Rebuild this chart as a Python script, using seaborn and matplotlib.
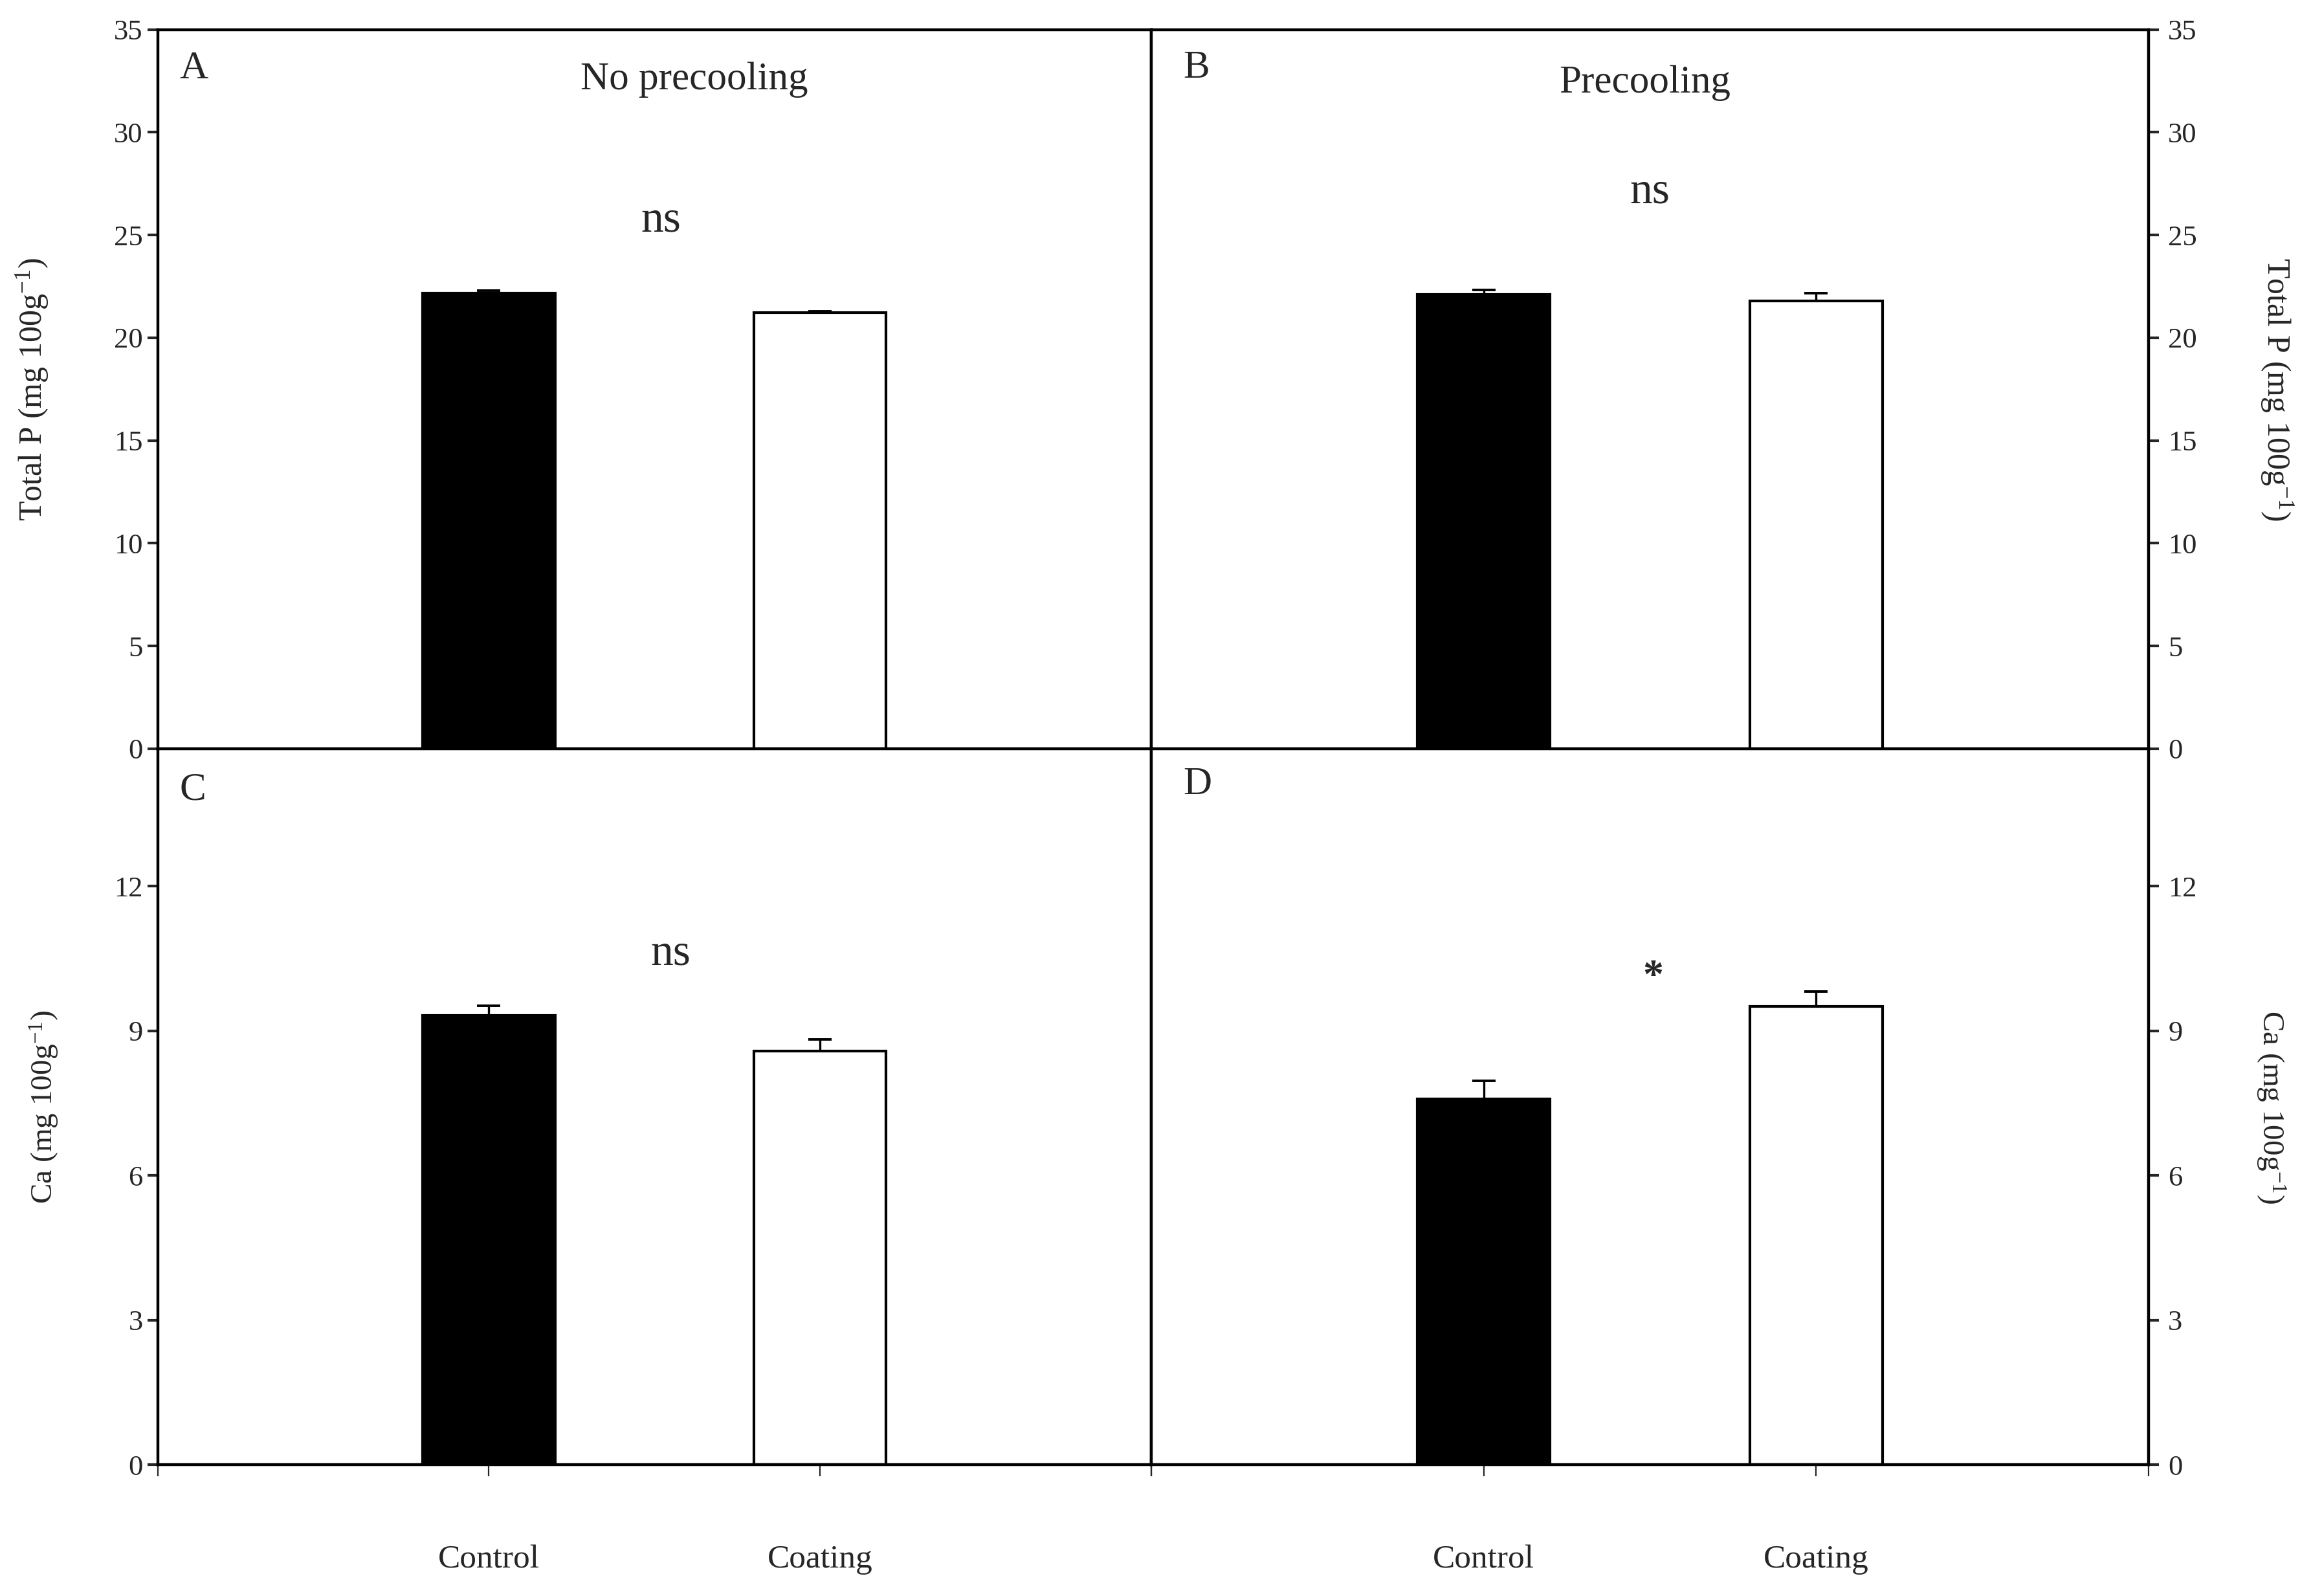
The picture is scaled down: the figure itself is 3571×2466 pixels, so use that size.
import matplotlib
matplotlib.use("Agg")
import matplotlib.pyplot as plt
import seaborn as sns
import pandas as pd
import numpy as np

# ---------------- data ----------------
treatments = ["Control", "Coating"]
conditions = ["No precooling", "Precooling"]
panel_letters = ["A", "B", "C", "D"]

totalp_noprecool = [22.17, 21.22]
totalp_noprecool_se = [0.13, 0.07]
totalp_precool = [22.11, 21.78]
totalp_precool_se = [0.21, 0.39]

ca_noprecool = [9.32, 8.58]
ca_noprecool_se = [0.20, 0.24]
ca_precool = [7.58, 9.51]
ca_precool_se = [0.38, 0.31]

signif = ["ns", "ns", "ns", "*"]

totalp_ticks = [0, 5, 10, 15, 20, 25, 30, 35]
ca_ticks = [0, 3, 6, 9, 12]

totalp_label = "Total P (mg 100g$^{\\mathregular{-1}}$)"
ca_label = "Ca (mg 100g$^{\\mathregular{-1}}$)"

# ---------------- style ----------------
sns.set_style("ticks")
plt.rcParams["font.family"] = ["Liberation Serif", "DejaVu Serif"]
plt.rcParams["mathtext.fontset"] = "custom"
plt.rcParams["mathtext.rm"] = "Liberation Serif"
plt.rcParams["mathtext.it"] = "Liberation Serif:italic"
plt.rcParams["mathtext.bf"] = "Liberation Serif:bold"

fig = plt.figure(figsize=(35.71, 24.66), dpi=100)
fig.patch.set_facecolor("white")

boxes = [
    [0.0682, 0.5309, 0.4299, 0.4506],
    [0.4981, 0.5309, 0.4317, 0.4506],
    [0.0682, 0.0822, 0.4299, 0.4487],
    [0.4981, 0.0822, 0.4317, 0.4487],
]

panels = [
    (totalp_noprecool, totalp_noprecool_se, totalp_ticks, (0, 35), totalp_label),
    (totalp_precool, totalp_precool_se, totalp_ticks, (0, 35), totalp_label),
    (ca_noprecool, ca_noprecool_se, ca_ticks, (0, 14.85), ca_label),
    (ca_precool, ca_precool_se, ca_ticks, (0, 14.85), ca_label),
]

sig_pos = [(0.52, 25.7), (0.50, 27.1), (0.55, 10.6), (0.51, 10.1)]
sig_size = [50, 50, 50, 46]
sig_weight = ["normal", "normal", "normal", "bold"]
letter_pos = [(0.022, 0.945), (0.032, 0.946), (0.022, 0.942), (0.032, 0.950)]
title_pos = [(0.54, 0.930), (0.495, 0.926)]
ylabel_x = [-0.126, 1.128, -0.114, 1.122]
ylabel_size = [36, 36, 34, 34]

SPINE_LW = 3.2

for i, (vals, ses, ticks, ylim, ylab) in enumerate(panels):
    ax = fig.add_axes(boxes[i])
    df = pd.DataFrame({"Treatment": treatments, "value": vals})
    sns.barplot(data=df, x="Treatment", y="value", hue="Treatment",
                order=treatments, hue_order=treatments,
                palette=["black", "white"], edgecolor="black",
                linewidth=3.0, width=0.4, errorbar=None, legend=False, ax=ax)
    xs = sorted(p.get_x() + p.get_width() / 2 for p in ax.patches)
    ax.errorbar(xs, vals, yerr=[np.zeros(len(ses)), ses], fmt="none",
                ecolor="black", elinewidth=2.4, capsize=13, capthick=2.8,
                zorder=5)

    ax.set_xlim(-1, 2)
    ax.set_ylim(*ylim)
    ax.set_yticks(ticks)
    ax.set_yticklabels([str(t) for t in ticks])
    ax.set_xlabel("")

    for sp in ax.spines.values():
        sp.set_visible(True)
        sp.set_linewidth(SPINE_LW)
        sp.set_color("black")

    right = i in (1, 3)
    if right:
        ax.yaxis.tick_right()
        ax.yaxis.set_label_position("right")
        ax.tick_params(axis="y", left=False, right=True, labelleft=False,
                       labelright=True, direction="out", length=11.5,
                       width=3.0, labelsize=32, pad=10)
        ax.set_ylabel(ylab, fontsize=ylabel_size[i], rotation=270, va="center")
    else:
        ax.tick_params(axis="y", left=True, right=False, direction="out",
                       length=11.5, width=3.0, labelsize=32, pad=5)
        ax.set_ylabel(ylab, fontsize=ylabel_size[i], rotation=90, va="center")
    ax.yaxis.set_label_coords(ylabel_x[i], 0.5)

    if i < 2:
        ax.tick_params(axis="x", length=0, labelbottom=False)
        ax.set_xticks([])
        ax.text(title_pos[i][0], title_pos[i][1], conditions[i],
                transform=ax.transAxes, ha="center", va="center", fontsize=44)
    else:
        ax.set_xticks([-1, 0, 1, 2])
        ax.set_xticklabels(["", treatments[0], treatments[1], ""])
        ax.tick_params(axis="x", direction="out", length=13, width=1.6,
                       labelsize=37, pad=76)

    ax.text(sig_pos[i][0], sig_pos[i][1], signif[i], ha="center",
            va="center", fontsize=sig_size[i], fontweight=sig_weight[i])
    ax.text(letter_pos[i][0], letter_pos[i][1], panel_letters[i],
            transform=ax.transAxes, ha="left", va="center", fontsize=44)
    ax.grid(False)

fig.savefig("out.png", dpi=100, facecolor="white")
